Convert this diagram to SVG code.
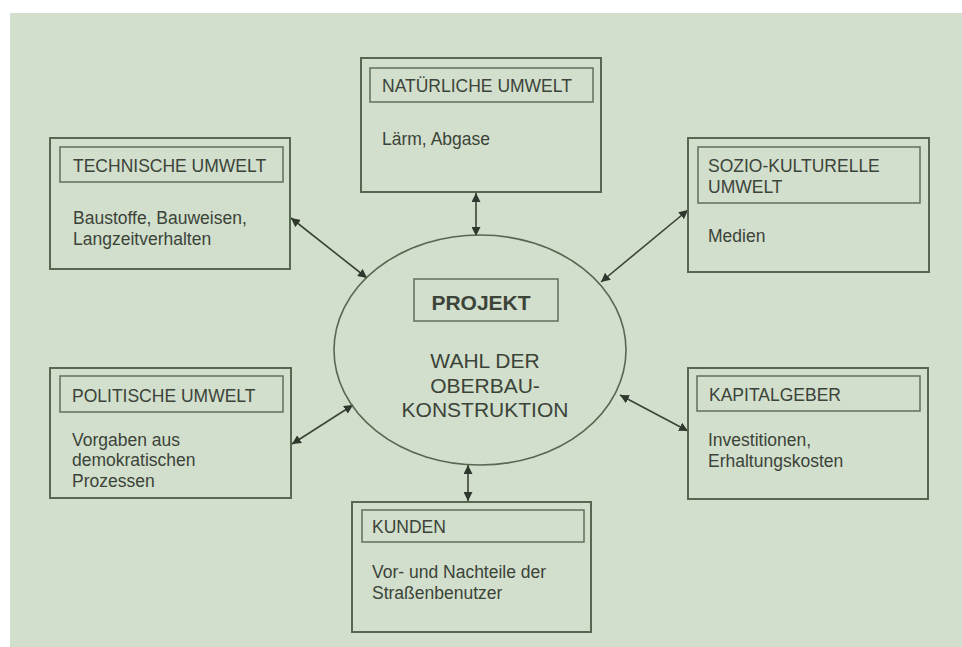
<svg xmlns="http://www.w3.org/2000/svg" width="962" height="647" viewBox="0 0 962 647">
  <defs>
    <style>
      .box { fill: none; stroke: #56684f; stroke-width: 2; }
      .hdr { fill: none; stroke: #5f7259; stroke-width: 1.5; }
      .t { font-family: "Liberation Sans", Arial, sans-serif; font-size: 17.5px; fill: #3c4339; }
      .c { font-family: "Liberation Sans", Arial, sans-serif; font-size: 21px; fill: #3c4339; text-anchor: middle; }
      .conn { stroke: #3a4436; stroke-width: 1.6; fill: none; marker-start: url(#ah); marker-end: url(#ah); }
    </style>
    <marker id="ah" viewBox="0 0 10 10" refX="10" refY="5" markerWidth="9" markerHeight="9" orient="auto-start-reverse" markerUnits="userSpaceOnUse">
      <path d="M0,0 L10,5 L0,10 z" fill="#2f382c"/>
    </marker>
  </defs>

  <rect x="0" y="0" width="962" height="647" fill="#ffffff"/>
  <rect x="10" y="13" width="952" height="634" fill="#d1dfcc"/>

  <g id="connectors">
    <line class="conn" x1="476" y1="193" x2="476" y2="236"/>
    <line class="conn" x1="291" y1="218" x2="367" y2="278"/>
    <line class="conn" x1="688" y1="210" x2="601" y2="282"/>
    <line class="conn" x1="292" y1="444" x2="353" y2="405"/>
    <line class="conn" x1="620" y1="395" x2="688" y2="431"/>
    <line class="conn" x1="468" y1="465" x2="468" y2="501"/>
  </g>

  <g id="projekt">
    <ellipse cx="480" cy="350" rx="146" ry="115" fill="none" stroke="#56684f" stroke-width="1.6"/>
    <rect class="hdr" x="414" y="279" width="144" height="42"/>
    <text x="481" y="310" class="c" font-weight="bold" font-size="24">PROJEKT</text>
    <text x="485" y="368" class="c">WAHL DER</text>
    <text x="485" y="393" class="c">OBERBAU-</text>
    <text x="485" y="417" class="c">KONSTRUKTION</text>
  </g>

  <g id="natuerliche-umwelt">
    <rect class="box" x="361" y="58" width="240" height="134"/>
    <rect class="hdr" x="370" y="68" width="223" height="34"/>
    <text x="382" y="92" class="t">NATÜRLICHE UMWELT</text>
    <text x="382" y="145" class="t">Lärm, Abgase</text>
  </g>

  <g id="technische-umwelt">
    <rect class="box" x="50" y="138" width="240" height="131"/>
    <rect class="hdr" x="60" y="147" width="223" height="35"/>
    <text x="73" y="172" class="t">TECHNISCHE UMWELT</text>
    <text x="73" y="224" class="t">Baustoffe, Bauweisen,</text>
    <text x="73" y="245" class="t">Langzeitverhalten</text>
  </g>

  <g id="sozio-kulturelle-umwelt">
    <rect class="box" x="688" y="138" width="241" height="134"/>
    <rect class="hdr" x="698" y="147" width="222" height="56"/>
    <text x="708" y="172" class="t">SOZIO-KULTURELLE</text>
    <text x="708" y="193" class="t">UMWELT</text>
    <text x="708" y="242" class="t">Medien</text>
  </g>

  <g id="politische-umwelt">
    <rect class="box" x="50" y="368" width="241" height="130"/>
    <rect class="hdr" x="60" y="376" width="223" height="36"/>
    <text x="72" y="402" class="t">POLITISCHE UMWELT</text>
    <text x="72" y="446" class="t">Vorgaben aus</text>
    <text x="72" y="466" class="t">demokratischen</text>
    <text x="72" y="487" class="t">Prozessen</text>
  </g>

  <g id="kapitalgeber">
    <rect class="box" x="688" y="368" width="240" height="131"/>
    <rect class="hdr" x="697" y="376" width="223" height="35"/>
    <text x="709" y="401" class="t">KAPITALGEBER</text>
    <text x="708" y="446" class="t">Investitionen,</text>
    <text x="708" y="467" class="t">Erhaltungskosten</text>
  </g>

  <g id="kunden">
    <rect class="box" x="352" y="502" width="239" height="130"/>
    <rect class="hdr" x="362" y="510" width="222" height="32"/>
    <text x="372" y="533" class="t">KUNDEN</text>
    <text x="372" y="578" class="t">Vor- und Nachteile der</text>
    <text x="372" y="599" class="t">Straßenbenutzer</text>
  </g>
</svg>
